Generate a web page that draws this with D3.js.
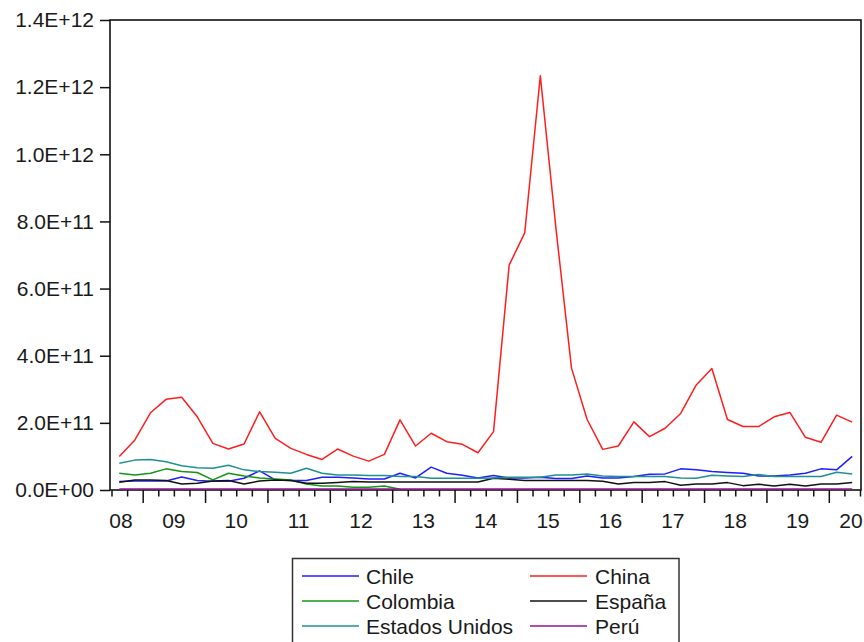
<!DOCTYPE html>
<html><head><meta charset="utf-8">
<script src="https://cdn.jsdelivr.net/npm/d3@7"></script>
<style>
body{margin:0;background:#fff}
text{font-family:"Liberation Sans",Arial,sans-serif;fill:#1a1a1a}
</style>
</head><body>
<svg id="c" width="864" height="642"></svg>
<script>
// ---- data (values in units of 1E+11) ----
const unit = 1e11;
const quarters = [
 "2008Q1","2008Q2","2008Q3","2008Q4","2009Q1","2009Q2","2009Q3","2009Q4",
 "2010Q1","2010Q2","2010Q3","2010Q4","2011Q1","2011Q2","2011Q3","2011Q4",
 "2012Q1","2012Q2","2012Q3","2012Q4","2013Q1","2013Q2","2013Q3","2013Q4",
 "2014Q1","2014Q2","2014Q3","2014Q4","2015Q1","2015Q2","2015Q3","2015Q4",
 "2016Q1","2016Q2","2016Q3","2016Q4","2017Q1","2017Q2","2017Q3","2017Q4",
 "2018Q1","2018Q2","2018Q3","2018Q4","2019Q1","2019Q2","2019Q3","2019Q4"];
const chile = [0.25,0.27,0.27,0.27,0.39,0.28,0.26,0.26,0.35,0.57,0.30,0.28,
  0.28,0.38,0.38,0.36,0.33,0.33,0.50,0.36,0.68,0.50,0.44,0.36,
  0.43,0.36,0.36,0.38,0.34,0.34,0.42,0.36,0.36,0.40,0.47,0.48,
  0.63,0.60,0.55,0.52,0.50,0.42,0.42,0.45,0.50,0.63,0.60,1.00];
const china = [1.00,1.49,2.30,2.70,2.76,2.18,1.39,1.22,1.37,2.33,1.54,1.24,
  1.06,0.91,1.22,1.01,0.86,1.06,2.09,1.31,1.69,1.44,1.36,1.11,
  1.74,6.70,7.66,12.34,7.80,3.63,2.10,1.21,1.31,2.03,1.59,1.84,
  2.28,3.13,3.62,2.10,1.89,1.89,2.18,2.31,1.57,1.42,2.23,2.02];
const colombia = [0.50,0.45,0.50,0.63,0.55,0.52,0.30,0.50,0.42,0.36,0.33,0.30,
  0.18,0.12,0.12,0.08,0.08,0.12,0.02,null,null,null,null,null,
  null,null,null,null,null,null,null,null,null,null,null,null,
  null,null,null,null,null,null,null,null,null,null,null,null];
const espana = [0.23,0.30,0.30,0.28,0.18,0.20,0.27,0.28,0.18,0.27,0.30,0.28,
  0.20,0.20,0.22,0.25,0.24,0.24,0.24,0.24,0.24,0.24,0.24,0.24,
  0.35,0.32,0.28,0.28,0.28,0.28,0.28,0.26,0.18,0.22,0.22,0.25,
  0.14,0.18,0.18,0.22,0.13,0.17,0.12,0.17,0.12,0.18,0.18,0.22];
const eeuu = [0.80,0.89,0.91,0.84,0.72,0.66,0.65,0.74,0.60,0.55,0.53,0.50,
  0.65,0.50,0.45,0.45,0.43,0.43,0.40,0.40,0.35,0.35,0.35,0.35,
  0.36,0.38,0.38,0.38,0.45,0.45,0.48,0.42,0.40,0.40,0.40,0.40,
  0.36,0.35,0.44,0.42,0.40,0.46,0.40,0.40,0.40,0.40,0.53,0.48];
const peru = [0.03,0.03,0.03,0.03,0.03,0.03,0.03,0.03,0.03,0.03,0.03,0.03,
  0.03,0.03,0.03,0.03,0.03,0.03,0.03,0.03,0.03,0.03,0.03,0.03,
  0.03,0.03,0.03,0.03,0.03,0.03,0.03,0.03,0.03,0.03,0.03,0.03,
  0.03,0.03,0.03,0.03,0.03,0.03,0.03,0.03,0.03,0.03,0.03,0.03];
const seriesNames = ["Chile","China","Colombia","España","Estados Unidos","Perú"];
const seriesColors = ["#1e1eff","#ff1e1e","#139613","#111111","#1f9090","#931593"];
const seriesData = [chile, china, colombia, espana, eeuu, peru];
const yTicks = [0,2e11,4e11,6e11,8e11,1e12,1.2e12,1.4e12];
const yTickLabels = ["0.0E+00","2.0E+11","4.0E+11","6.0E+11","8.0E+11","1.0E+12","1.2E+12","1.4E+12"];
const xTickLabels = ["08","09","10","11","12","13","14","15","16","17","18","19","20"];

// ---- layout ----
const svg = d3.select("#c");
const plotL = 110, plotR = 861, plotT = 20, plotB = 490;
const x = d3.scaleLinear().domain([0, quarters.length]).range([111.5, 860]);
const y = d3.scaleLinear().domain([0, 1.4e12]).range([plotB, plotT]);
const fs = "21px";

// y axis
const yAxis = svg.append("g").attr("transform", `translate(${plotL},0)`)
  .call(d3.axisLeft(y).tickValues(yTicks).tickSize(10).tickPadding(6)
    .tickFormat((d,i)=>yTickLabels[i]));
yAxis.select(".domain").remove();
yAxis.selectAll(".tick line").attr("stroke","#111").attr("stroke-width",1.5);
yAxis.selectAll(".tick text").style("font-size",fs).attr("fill","#1a1a1a");

// x axis (quarter boundaries)
const xAxis = svg.append("g").attr("transform", `translate(0,${plotB})`)
  .call(d3.axisBottom(x).tickValues(d3.range(quarters.length + 1)).tickSize(6.5).tickFormat(""));
xAxis.select(".domain").remove();
xAxis.selectAll(".tick line").attr("stroke","#111").attr("stroke-width",1.5)
  .attr("y2", d => (d % 4 === 2) ? 13 : 6.5);

// x labels at year starts
svg.append("g").selectAll("text").data(xTickLabels).join("text")
  .attr("x", (d,i) => Math.max(121, Math.min(851, x(i*4))))
  .attr("y", 528)
  .attr("text-anchor","middle")
  .style("font-size",fs)
  .text(d=>d);

// frame
svg.append("rect").attr("x",plotL).attr("y",plotT).attr("width",plotR-plotL).attr("height",plotB-plotT)
  .attr("fill","none").attr("stroke","#111").attr("stroke-width",1.6);

// lines
const line = d3.line().defined(d => d != null)
  .x((d,i) => x(i + 0.5)).y(d => y(d * unit));
seriesData.forEach((s, k) => {
  svg.append("path").datum(s).attr("d", line)
    .attr("fill","none").attr("stroke", seriesColors[k]).attr("stroke-width",1.5)
    .attr("stroke-linejoin","round");
});

// legend
svg.append("rect").attr("x",292.5).attr("y",558.5).attr("width",386.5).attr("height",120)
  .attr("fill","none").attr("stroke","#333").attr("stroke-width",1.5);
const legCols = [[302,359,366],[530,587,595]];
const legRowY = [576, 601, 626];
seriesNames.forEach((n,k) => {
  const c = legCols[k % 2], ry = legRowY[Math.floor(k/2)];
  svg.append("line").attr("x1",c[0]).attr("x2",c[1]).attr("y1",ry).attr("y2",ry)
    .attr("stroke", seriesColors[k]).attr("stroke-width",1.5);
  svg.append("text").attr("x",c[2]).attr("y",ry+8).style("font-size",fs).text(n);
});
</script>
</body></html>
